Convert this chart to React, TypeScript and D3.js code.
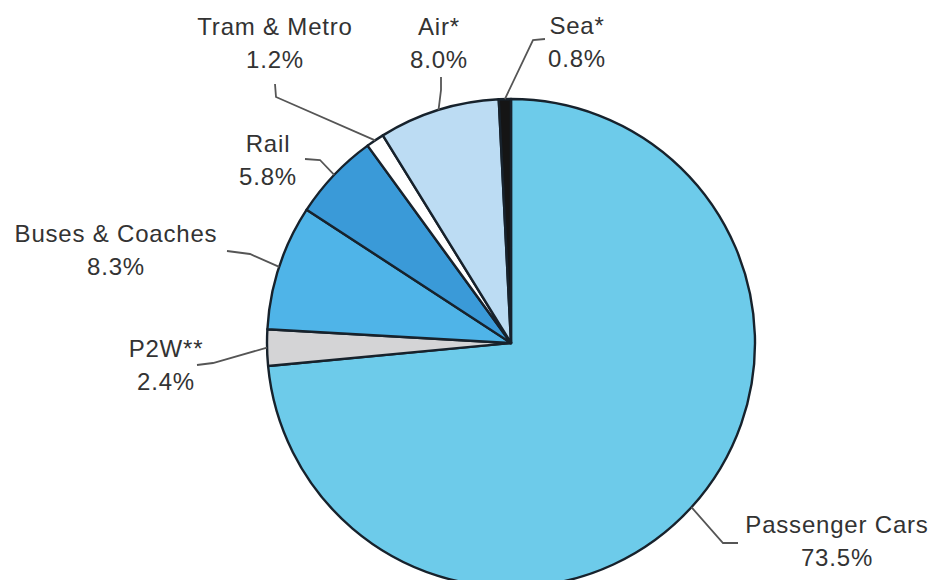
import React, { useEffect, useRef } from 'react';
import * as d3 from 'd3';

// Share of passenger transport, clockwise from 12 o'clock
const categories = ['Passenger Cars', 'P2W**', 'Buses & Coaches', 'Rail', 'Tram & Metro', 'Air*', 'Sea*'];
const shares = [73.5, 2.4, 8.3, 5.8, 1.2, 8.0, 0.8];
const shareLabels = ['73.5%', '2.4%', '8.3%', '5.8%', '1.2%', '8.0%', '0.8%'];

// Layout (not data): fills, label anchors and leader elbows
const fills = ['#6dcbea', '#d4d4d6', '#4fb4e8', '#3a9ad8', '#ffffff', '#bcdcf3', '#151515'];
const labelPos: [number, number][] = [
  [837, 533], [166, 357], [116, 242], [268, 152], [275, 35], [439, 35], [577, 34],
];
const leaderElbow: [number, number][] = [
  [723, 543], [213, 363], [250, 254], [320, 160], [276, 97], [441, 90], [533, 40],
];
const leaderEnd: [number, number][] = [
  [738, 543], [197, 365], [227, 251], [305, 159], [275, 84], [441, 77], [545, 39],
];

const width = 937;
const height = 580;

const App: React.FC = () => {
  const ref = useRef<SVGSVGElement>(null);

  useEffect(() => {
    if (!ref.current) return;
    const svg = d3.select(ref.current);
    svg.selectAll('*').remove();

    const cx = 511;
    const cy = 343;
    const radius = 244;

    const pie = d3.pie<number>().sort(null).value(d => d);
    const arcs = pie(shares);
    const arc = d3.arc<d3.PieArcDatum<number>>().innerRadius(0).outerRadius(radius);
    const edge = d3.arc<d3.PieArcDatum<number>>().innerRadius(radius).outerRadius(radius);

    const g = svg.append('g').attr('transform', `translate(${cx},${cy})`);

    g.selectAll('path.slice')
      .data(arcs)
      .enter()
      .append('path')
      .attr('class', 'slice')
      .attr('d', d => arc(d)!)
      .attr('fill', (_, i) => fills[i])
      .attr('stroke', '#17222c')
      .attr('stroke-width', 2.4)
      .attr('stroke-linejoin', 'round');

    // Leader lines from the slice edge to its label
    arcs.forEach((a, i) => {
      const [ex, ey] = edge.centroid(a);
      const pts: [number, number][] = [
        [cx + ex, cy + ey],
        leaderElbow[i],
        leaderEnd[i],
      ];
      svg.append('path')
        .attr('d', d3.line()(pts)!)
        .attr('fill', 'none')
        .attr('stroke', '#555')
        .attr('stroke-width', 1.8);
    });

    // Labels: name on the first line, share below
    categories.forEach((name, i) => {
      const [lx, ly] = labelPos[i];
      const t = svg.append('text')
        .attr('x', lx)
        .attr('y', ly)
        .attr('text-anchor', 'middle')
        .style('font-family', 'Liberation Sans, Arial, sans-serif')
        .style('font-size', '24px')
        .style('letter-spacing', '0.8px')
        .attr('fill', '#333');
      t.append('tspan').attr('x', lx).text(name);
      t.append('tspan').attr('x', lx).attr('dy', 33).text(shareLabels[i]);
    });
  }, []);

  return (
    <svg
      ref={ref}
      width={width}
      height={height}
      style={{ position: 'absolute', left: 0, top: 0, background: '#fff' }}
    />
  );
};

export default App;
